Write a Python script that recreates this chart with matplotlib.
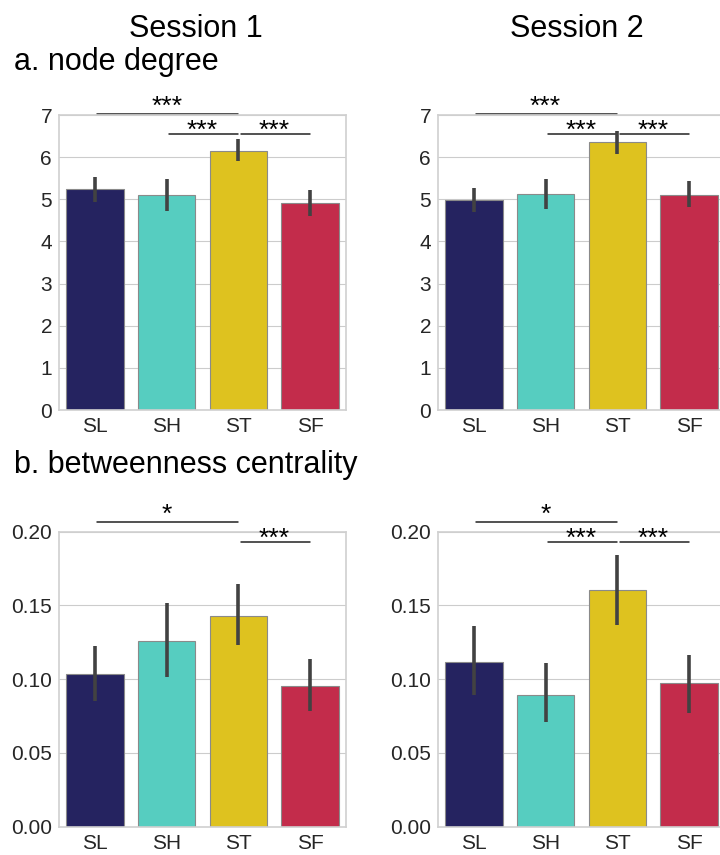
import numpy as np
import matplotlib
matplotlib.use('Agg')
import matplotlib.pyplot as plt
import seaborn as sns

sns.set_style('whitegrid')
plt.rcParams['font.family'] = ['Liberation Sans', 'DejaVu Sans']

conditions = ['SL', 'SH', 'ST', 'SF']
colors = ['#252360', '#56CDC0', '#DEC21F', '#C32C4B']

# node degree: mean, ci low, ci high
deg_s1 = [5.25, 5.09, 6.15, 4.92]
deg_s1_lo = [4.94, 4.72, 5.91, 4.61]
deg_s1_hi = [5.52, 5.47, 6.44, 5.22]
deg_s2 = [4.98, 5.12, 6.35, 5.11]
deg_s2_lo = [4.70, 4.78, 6.07, 4.81]
deg_s2_hi = [5.27, 5.47, 6.63, 5.43]

# betweenness centrality
btw_s1 = [0.1032, 0.126, 0.1431, 0.0957]
btw_s1_lo = [0.0853, 0.1016, 0.1232, 0.0783]
btw_s1_hi = [0.1223, 0.1517, 0.1648, 0.114]
btw_s2 = [0.1117, 0.0896, 0.1603, 0.0971]
btw_s2_lo = [0.089, 0.0707, 0.1368, 0.0772]
btw_s2_hi = [0.1363, 0.1108, 0.184, 0.1165]

# significance brackets: (from, to, y, label)
sig_deg_s1 = [(0, 2, 7.02, '***'), (1, 2, 6.55, '***'), (2, 3, 6.55, '***')]
sig_deg_s2 = [(0, 2, 7.02, '***'), (1, 2, 6.55, '***'), (2, 3, 6.55, '***')]
sig_btw_s1 = [(0, 2, 0.2065, '*'), (2, 3, 0.193, '***')]
sig_btw_s2 = [(0, 2, 0.2065, '*'), (1, 2, 0.193, '***'), (2, 3, 0.193, '***')]


def bar_panel(ax, means, lo, hi, sigs, ylim, yticks, fmt):
    x = np.arange(len(conditions))
    ax.bar(x, means, width=0.8, color=colors, edgecolor='#8a8a8a', linewidth=0.8, zorder=2)
    ax.vlines(x, lo, hi, color='#424242', linewidth=2.6, zorder=3)
    ax.set_xlim(-0.5, 3.5)
    ax.set_ylim(*ylim)
    ax.set_yticks(yticks)
    ax.set_yticklabels([fmt.format(t) for t in yticks])
    ax.set_xticks(x)
    ax.set_xticklabels(conditions)
    ax.tick_params(labelsize=15, colors='#262626', length=0)
    ax.tick_params(axis='x', pad=5)
    ax.tick_params(axis='y', pad=5)
    ax.grid(axis='x', visible=False)
    for s in ax.spines.values():
        s.set_color('#d0d0d0')
        s.set_linewidth(1.2)
    top = max(s[2] for s in sigs)
    for x1, x2, y, lab in sigs:
        ax.plot([x1 + 0.03, x2], [y, y], color='#222222', lw=1.1, clip_on=False)
        off = 0 if y == top else -2.5
        ax.annotate(lab, xy=((x1 + x2) / 2, y), xytext=(0, off), textcoords='offset points',
                    ha='center', va='baseline', fontsize=19, color='black',
                    annotation_clip=False)


fig = plt.figure(figsize=(7.2, 8.55), dpi=100)
w, h = 287 / 720, 295 / 855
ax1 = fig.add_axes([59 / 720, 1 - 410 / 855, w, h])
ax2 = fig.add_axes([438 / 720, 1 - 410 / 855, w, h])
ax3 = fig.add_axes([59 / 720, 1 - 826.7 / 855, w, h])
ax4 = fig.add_axes([438 / 720, 1 - 826.7 / 855, w, h])

deg_ticks = list(range(8))
btw_ticks = [0.0, 0.05, 0.10, 0.15, 0.20]
bar_panel(ax1, deg_s1, deg_s1_lo, deg_s1_hi, sig_deg_s1, (0, 7), deg_ticks, '{:d}')
bar_panel(ax2, deg_s2, deg_s2_lo, deg_s2_hi, sig_deg_s2, (0, 7), deg_ticks, '{:d}')
bar_panel(ax3, btw_s1, btw_s1_lo, btw_s1_hi, sig_btw_s1, (0, 0.2), btw_ticks, '{:.2f}')
bar_panel(ax4, btw_s2, btw_s2_lo, btw_s2_hi, sig_btw_s2, (0, 0.2), btw_ticks, '{:.2f}')

fig.text(196 / 720, 1 - 36.7 / 855, 'Session 1', ha='center', va='baseline', fontsize=22, color='black')
fig.text(577 / 720, 1 - 36.7 / 855, 'Session 2', ha='center', va='baseline', fontsize=22, color='black')
fig.text(14 / 720, 1 - 70 / 855, 'a. node degree', ha='left', va='baseline', fontsize=22, color='black')
fig.text(14 / 720, 1 - 473 / 855, 'b. betweenness centrality', ha='left', va='baseline',
         fontsize=22, color='black')

fig.savefig('out.png', dpi=100)
